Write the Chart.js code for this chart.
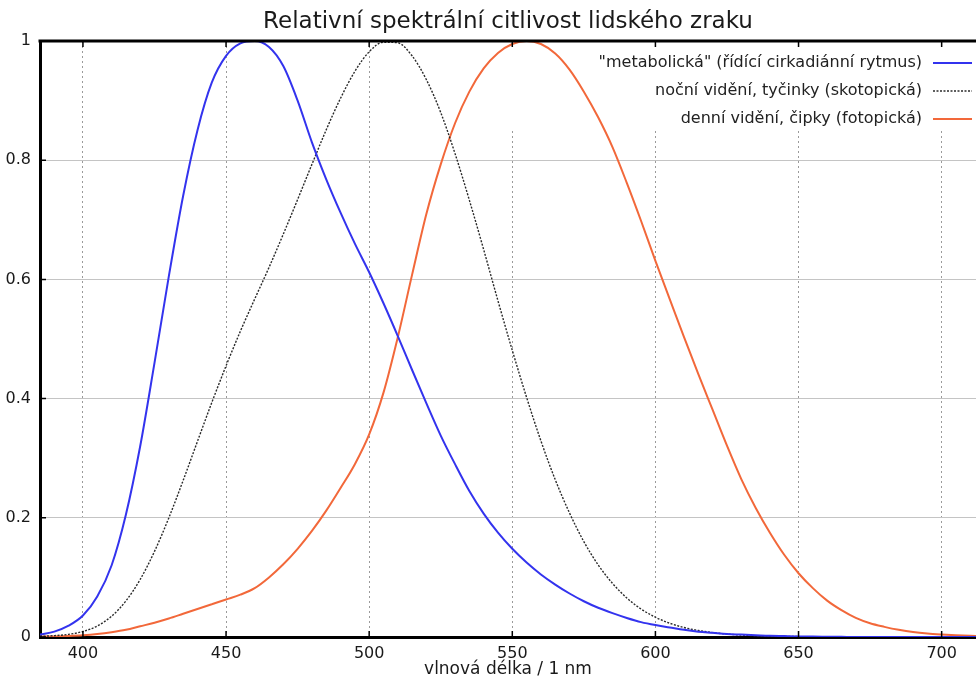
<!DOCTYPE html>
<html lang="cs">
<head>
<meta charset="utf-8">
<title>Relativní spektrální citlivost lidského zraku</title>
<script src="https://cdn.jsdelivr.net/npm/chart.js@4.4.1/dist/chart.umd.min.js"></script>
<style>
    html, body { margin: 0; padding: 0; background: #fff; overflow: hidden; }
    #wrap { position: relative; width: 976px; height: 680px; }
</style>
</head>
<body>
<div id="wrap"><canvas id="chart"></canvas></div>
<script>
// vlnové délky (nm), krok 5 nm
const wavelengths = [
    385, 390, 395, 400, 405, 410, 415, 420, 425, 430, 435, 440, 445, 450, 455, 460, 465,
    470, 475, 480, 485, 490, 495, 500, 505, 510, 515, 520, 525, 530, 535, 540, 545, 550,
    555, 560, 565, 570, 575, 580, 585, 590, 595, 600, 605, 610, 615, 620, 625, 630, 635,
    640, 645, 650, 655, 660, 665, 670, 675, 680, 685, 690, 695, 700, 705, 710, 715
];

// "metabolická" citlivost (modrá)
const metabolic = [
    0.004, 0.009, 0.019, 0.036, 0.068, 0.12, 0.205, 0.32, 0.46, 0.605, 0.74, 0.85, 0.93, 0.975, 0.996, 1.0, 0.99,
    0.958, 0.9, 0.83, 0.768, 0.712, 0.66, 0.612, 0.56, 0.505, 0.448, 0.392, 0.338, 0.29, 0.245, 0.207, 0.175, 0.148,
    0.125, 0.105, 0.088, 0.073, 0.06, 0.049, 0.04, 0.032, 0.025, 0.02, 0.016, 0.012, 0.009, 0.007, 0.005, 0.004, 0.003,
    0.002, 0.0015, 0.001, 0.0007, 0.0005, 0.0003, 0, 0, 0, 0, 0, 0, 0, 0, 0, 0
];

// noční vidění, tyčinky (tečkovaná)
const scotopic = [
    0.0011, 0.0022, 0.0045, 0.0093, 0.0185, 0.0348, 0.0604, 0.0966, 0.1436, 0.1998, 0.2625, 0.3281, 0.3931, 0.455, 0.513, 0.567, 0.62,
    0.676, 0.734, 0.793, 0.851, 0.904, 0.949, 0.982, 0.998, 0.997, 0.975, 0.935, 0.88, 0.811, 0.733, 0.65, 0.564, 0.481,
    0.402, 0.329, 0.264, 0.208, 0.16, 0.121, 0.09, 0.0655, 0.0469, 0.0332, 0.0231, 0.0159, 0.0109, 0.0074, 0.005, 0.0033, 0.0022,
    0.0015, 0.001, 0.0007, 0.0005, 0.0003, 0.0002, 0, 0, 0, 0, 0, 0, 0, 0, 0, 0
];

// denní vidění, čípky (oranžová)
const photopic = [
    0.0005, 0.001, 0.0018, 0.003, 0.005, 0.008, 0.012, 0.018, 0.024, 0.031, 0.039, 0.047, 0.055, 0.063, 0.071, 0.082, 0.1,
    0.122, 0.148, 0.178, 0.212, 0.25, 0.29, 0.34, 0.41, 0.503, 0.608, 0.71, 0.793, 0.862, 0.915, 0.954, 0.98, 0.995,
    1.0, 0.995, 0.979, 0.952, 0.915, 0.872, 0.822, 0.762, 0.698, 0.631, 0.567, 0.503, 0.441, 0.381, 0.321, 0.265, 0.217,
    0.175, 0.138, 0.107, 0.082, 0.061, 0.045, 0.032, 0.023, 0.017, 0.012, 0.0082, 0.0057, 0.0041, 0.0029, 0.0021, 0.0015
];

const seriesLabels = [
    '"metabolická" (řídící cirkadiánní rytmus)',
    'noční vidění, tyčinky (skotopická)',
    'denní vidění, čipky (fotopická)'
];

const xTicks = [400, 450, 500, 550, 600, 650, 700];
const yTicks = [0, 0.2, 0.4, 0.6, 0.8, 1];

const FONT = '"DejaVu Sans", "Liberation Sans", sans-serif';

// styly křivek
const lineStyles = [
    { color: '#3333ee', width: 2, dash: [] },
    { color: '#2a2a2a', width: 1.4, dash: [2, 1.5] },
    { color: '#f2683a', width: 2, dash: [] }
];

function toPoints(values) {
    return wavelengths.map((w, i) => ({ x: w, y: values[i] }));
}

/**
 * Legenda s bílým pozadím, rámeček nahoře a vnitřní značky os
 */
const framePlugin = {
    id: 'frame',
    beforeDatasetsDraw(chart) {
        const { ctx, chartArea: a } = chart;
        ctx.save();
        // bílé pozadí legendy překrývá mřížku
        ctx.fillStyle = '#fff';
        ctx.fillRect(505, a.top + 2, a.right - 505, 130 - a.top - 2);

        ctx.font = '16px ' + FONT;
        ctx.textAlign = 'right';
        ctx.textBaseline = 'middle';
        seriesLabels.forEach((label, i) => {
            const y = 63 + i * 28;
            ctx.fillStyle = '#222';
            ctx.fillText(label, a.right - 54, y);
            ctx.strokeStyle = lineStyles[i].color;
            ctx.lineWidth = lineStyles[i].width;
            ctx.setLineDash(lineStyles[i].dash);
            ctx.beginPath();
            ctx.moveTo(a.right - 43, y);
            ctx.lineTo(a.right - 4, y);
            ctx.stroke();
        });
        ctx.restore();
    },
    afterDraw(chart) {
        const { ctx, chartArea: a, scales } = chart;
        ctx.save();
        ctx.strokeStyle = '#000';
        // horní okraj
        ctx.lineWidth = 3;
        ctx.beginPath();
        ctx.moveTo(a.left - 1.5, a.top);
        ctx.lineTo(a.right, a.top);
        ctx.stroke();
        // značky dovnitř grafu
        ctx.lineWidth = 1.5;
        ctx.beginPath();
        xTicks.forEach(v => {
            const px = scales.x.getPixelForValue(v);
            ctx.moveTo(px, a.bottom);
            ctx.lineTo(px, a.bottom - 6);
            ctx.moveTo(px, a.top);
            ctx.lineTo(px, a.top + 6);
        });
        yTicks.forEach(v => {
            const py = scales.y.getPixelForValue(v);
            ctx.moveTo(a.left, py);
            ctx.lineTo(a.left + 6, py);
        });
        ctx.stroke();
        ctx.restore();
    }
};

const datasets = [metabolic, scotopic, photopic].map((values, i) => ({
    label: seriesLabels[i],
    data: toPoints(values),
    borderColor: lineStyles[i].color,
    borderWidth: lineStyles[i].width,
    borderDash: lineStyles[i].dash,
    pointRadius: 0,
    fill: false,
    cubicInterpolationMode: 'monotone'
}));

new Chart(document.getElementById('chart'), {
    type: 'line',
    data: { datasets: datasets },
    options: {
        responsive: true,
        maintainAspectRatio: false,
        animation: false,
        devicePixelRatio: 1,
        layout: { padding: 0 },
        plugins: {
            legend: { display: false },
            tooltip: { enabled: false },
            title: {
                display: true,
                fullSize: false,
                text: 'Relativní spektrální citlivost lidského zraku',
                color: '#1a1a1a',
                font: { family: FONT, size: 23, weight: 'normal' },
                padding: { top: 8, bottom: 5.4 }
            }
        },
        scales: {
            x: {
                type: 'linear',
                min: 385,
                max: 712,
                afterBuildTicks: axis => { axis.ticks = xTicks.map(v => ({ value: v })); },
                afterFit: axis => { axis.height = 43; },
                grid: { color: '#9a9a9a', lineWidth: 1, drawTicks: false },
                border: { color: '#000', width: 3, dash: [2, 3] },
                ticks: {
                    color: '#1a1a1a',
                    padding: 7,
                    maxRotation: 0,
                    font: { family: FONT, size: 16 }
                },
                title: {
                    display: true,
                    text: 'vlnová délka / 1 nm',
                    color: '#1a1a1a',
                    font: { family: FONT, size: 17 },
                    padding: { top: 0, bottom: 0 }
                }
            },
            y: {
                min: 0,
                max: 1,
                afterBuildTicks: axis => { axis.ticks = yTicks.map(v => ({ value: v })); },
                afterFit: axis => { axis.width = 40; },
                grid: { color: '#c4c4c4', lineWidth: 1, drawTicks: false },
                border: { color: '#000', width: 3 },
                ticks: {
                    color: '#1a1a1a',
                    padding: 9,
                    font: { family: FONT, size: 16 },
                    callback: value => String(value)
                }
            }
        }
    },
    plugins: [framePlugin]
});
</script>
</body>
</html>
